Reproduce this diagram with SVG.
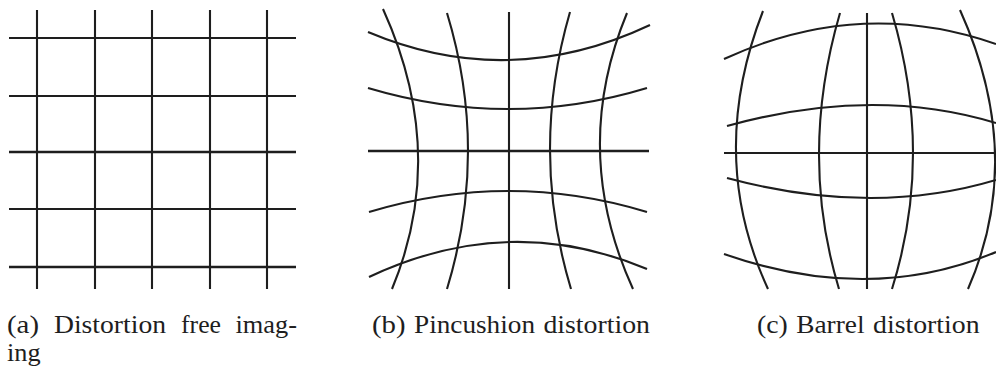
<svg xmlns="http://www.w3.org/2000/svg" width="996" height="368" viewBox="0 0 996 368">
<style>
.g{fill:none;stroke:#1e1e1e;stroke-width:2.1;stroke-linecap:butt}
.t{stroke-width:2.6}
.cap{font-family:"Liberation Serif","Times New Roman",serif;font-size:26px;fill:#1e1e1e}
</style>
<rect width="996" height="368" fill="#ffffff"/>
<g id="panel-a">
<path class="g" d="M37 10V289M95 10V289M152 10V289M210 10V289M267 10V289"/>
<path class="g" d="M9 38H296M9 96H296M9 209H296"/>
<path class="g t" d="M9 152H296M9 267H296"/>
</g>
<g id="panel-b">
<path class="g" d="M383 9Q448.5 153 392 289M447 13Q489 151 447 289M509 12V289M570 12Q529.5 151.5 571 289M627 13Q570 151 633 289"/>
<path class="g" d="M368 32Q509 91.5 650 25M368 88Q509 130 647 88M369 212Q509 170 647 212M369 277Q509 211 647 269"/>
<path class="g t" d="M368 151H649"/>
</g>
<g id="panel-c">
<path class="g" d="M763 11Q706.5 156 768 289M840 13Q798.5 155 839 289M867 13V289M892 13Q934 155 892 289M960 10Q1026 156.5 968 289"/>
<path class="g" d="M724 59Q860 -3.5 996 44M727 126Q872.5 85.5 996 123M727 178Q872.5 217 996 180M724 254Q870 305 996 252M724 153H996"/>
</g>
<g id="captions">
<text class="cap" x="7" y="333" textLength="32" lengthAdjust="spacingAndGlyphs">(a)</text>
<text class="cap" x="54" y="333" textLength="112" lengthAdjust="spacingAndGlyphs">Distortion</text>
<text class="cap" x="181" y="333" textLength="40" lengthAdjust="spacingAndGlyphs">free</text>
<text class="cap" x="235.5" y="333" textLength="61.5" lengthAdjust="spacingAndGlyphs">imag-</text>
<text class="cap" x="7" y="361" textLength="33.6" lengthAdjust="spacingAndGlyphs">ing</text>
<text class="cap" x="372" y="333" textLength="33.6" lengthAdjust="spacingAndGlyphs">(b)</text>
<text class="cap" x="414" y="333" textLength="121" lengthAdjust="spacingAndGlyphs">Pincushion</text>
<text class="cap" x="543.4" y="333" textLength="106.6" lengthAdjust="spacingAndGlyphs">distortion</text>
<text class="cap" x="757" y="333" textLength="30.8" lengthAdjust="spacingAndGlyphs">(c)</text>
<text class="cap" x="796.2" y="333" textLength="68.4" lengthAdjust="spacingAndGlyphs">Barrel</text>
<text class="cap" x="873" y="333" textLength="106.6" lengthAdjust="spacingAndGlyphs">distortion</text>
</g>
</svg>
